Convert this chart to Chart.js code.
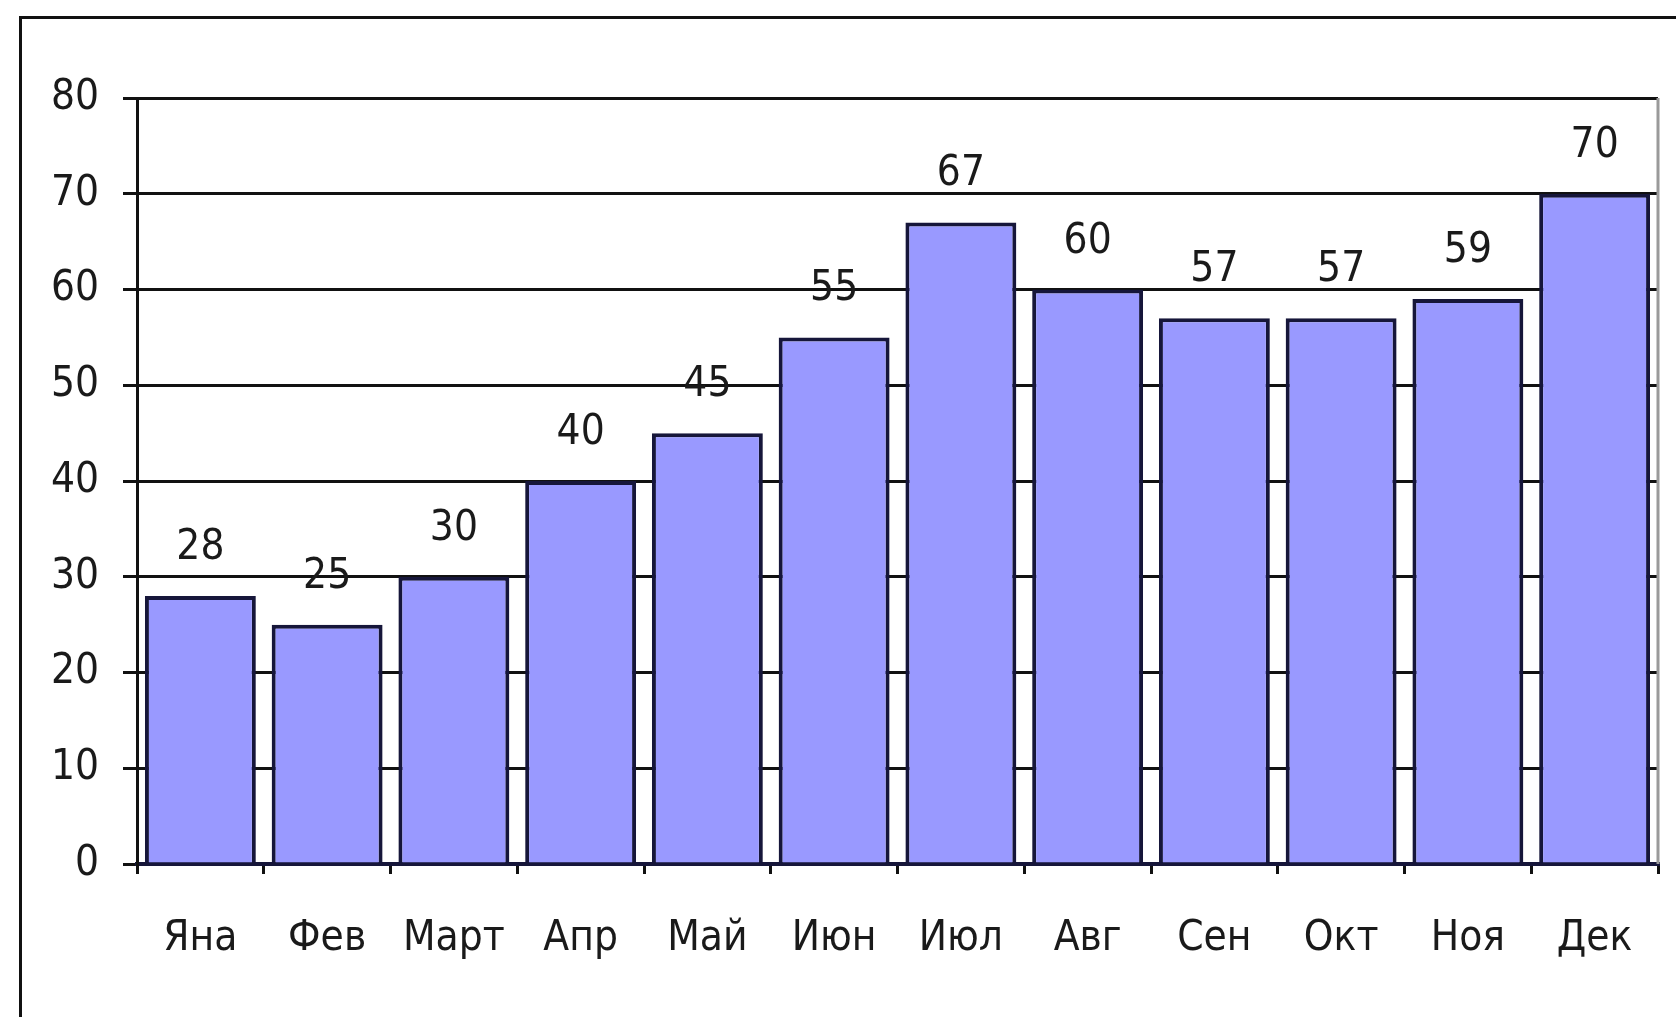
<!DOCTYPE html>
<html>
<head>
<meta charset="utf-8">
<script src="https://cdn.jsdelivr.net/npm/chart.js@4/dist/chart.umd.min.js"></script>
<style>
  html, body { margin: 0; padding: 0; background: #fff; overflow: hidden; }
  #frame { position: absolute; left: 19px; top: 16px; width: 1700px; height: 1100px; border: 3px solid #111; }
  #myChart { position: absolute; left: 0; top: 0; }
</style>
</head>
<body>
<div id="frame"></div>
<canvas id="myChart" width="1676" height="1017"></canvas>
<script>
const months = ["Яна", "Фев", "Март", "Апр", "Май", "Июн", "Июл", "Авг", "Сен", "Окт", "Ноя", "Дек"];
const values = [28, 25, 30, 40, 45, 55, 67, 60, 57, 57, 59, 70];
const yTicks = [0, 10, 20, 30, 40, 50, 60, 70, 80];

const FONT = '"Liberation Sans Narrow", "DejaVu Sans Condensed", "Liberation Sans", sans-serif';

// value labels above each bar + grey right edge of the plot
const barLabels = {
  id: 'barLabels',
  afterDatasetsDraw(chart) {
    const ctx = chart.ctx;
    const area = chart.chartArea;
    ctx.save();
    ctx.strokeStyle = '#9a9a9a';
    ctx.lineWidth = 3;
    ctx.beginPath();
    ctx.moveTo(area.right, area.top);
    ctx.lineTo(area.right, area.bottom);
    ctx.stroke();

    ctx.font = '42px ' + FONT;
    ctx.fillStyle = '#1a1a1a';
    ctx.textAlign = 'center';
    ctx.textBaseline = 'alphabetic';
    chart.getDatasetMeta(0).data.forEach((bar, i) => {
      ctx.fillText(String(values[i]), bar.x, bar.y - 37);
    });
    ctx.restore();
  }
};

const generateChart = () => {
  const ctx = document.getElementById('myChart').getContext('2d');
  return new Chart(ctx, {
    type: 'bar',
    data: {
      labels: months,
      datasets: [{
        data: values,
        backgroundColor: '#9999ff',
        borderColor: '#16163a',
        borderWidth: 4,
        borderSkipped: 'bottom',
        categoryPercentage: 0.875,
        barPercentage: 1
      }]
    },
    options: {
      responsive: false,
      animation: false,
      layout: { padding: { top: 98, right: 18, left: 0, bottom: 0 } },
      plugins: { legend: { display: false }, tooltip: { enabled: false } },
      scales: {
        x: {
          afterFit: (scale) => { scale.height = 153; },
          grid: { offset: true, drawOnChartArea: false, tickLength: 10, color: '#111', lineWidth: 3 },
          border: { color: '#16163a', width: 4 },
          ticks: { font: { family: FONT, size: 42 }, color: '#1a1a1a', padding: 40 }
        },
        y: {
          min: 0,
          max: 80,
          afterFit: (scale) => { scale.width = 137; },
          afterBuildTicks: (scale) => { scale.ticks = yTicks.map(v => ({ value: v })); },
          grid: { color: '#111', lineWidth: 3, tickLength: 14 },
          border: { color: '#111', width: 3 },
          ticks: { font: { family: FONT, size: 42 }, color: '#1a1a1a', padding: 24 }
        }
      }
    },
    plugins: [barLabels]
  });
};

generateChart();
</script>
</body>
</html>
